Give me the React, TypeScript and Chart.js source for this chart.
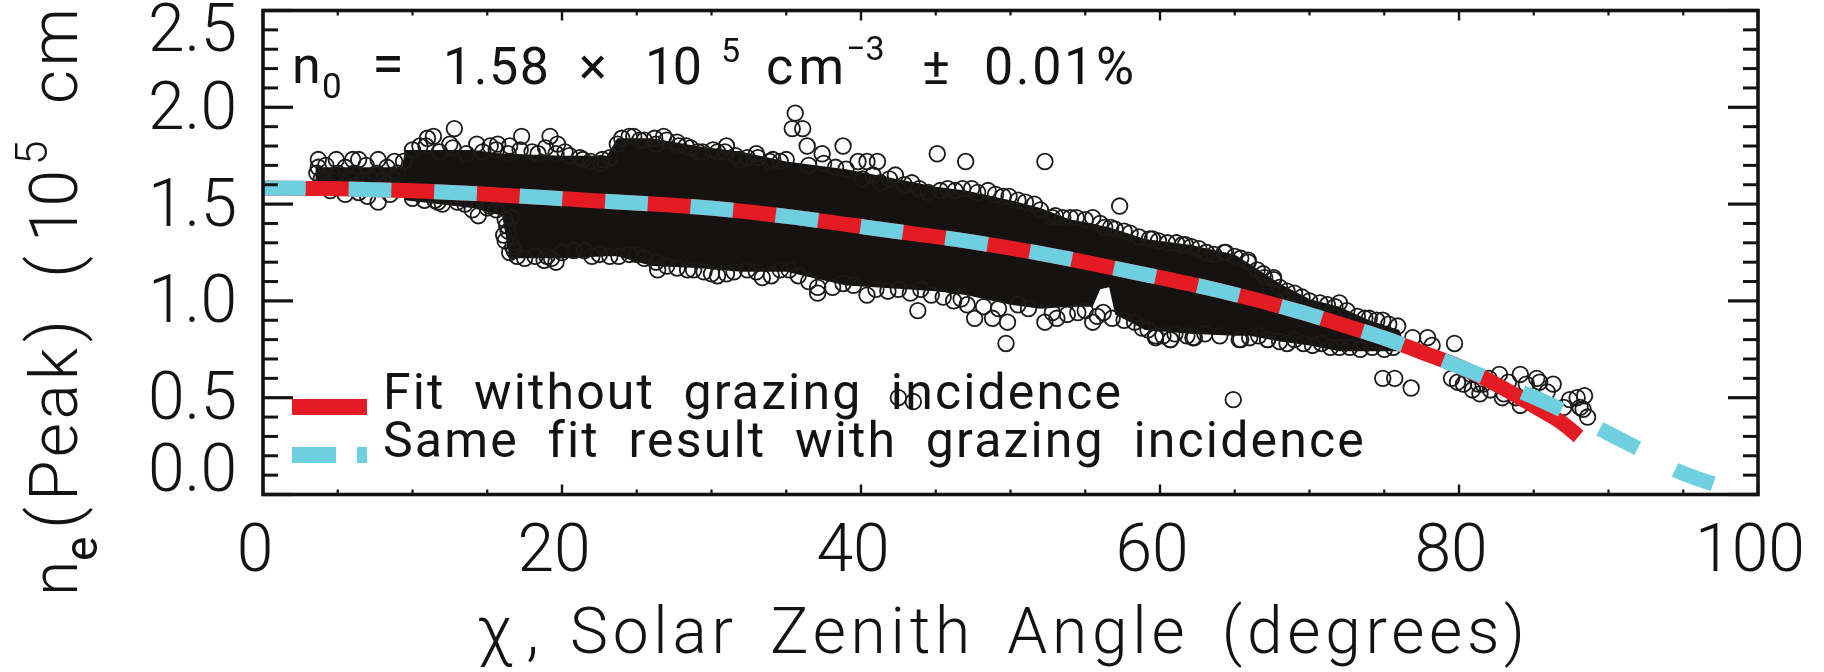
import React, { useEffect, useRef } from "react";
import { Chart, registerables } from "chart.js";

Chart.register(...registerables);

const FONT = "Roboto";
const WEIGHT = 300;
const INK = "#141311";
const RED = "#e41b23";
const CYAN = "#6dcfe0";

// Fit curves (degrees, 10^5 cm^-3)
const curveX = [0, 4.3, 13, 21.4, 29.9, 35.7, 41.3, 47, 52.6, 58.2, 63.8, 69.4, 72.2, 74.9, 77.5, 80.2, 82.7, 85.4, 90.6, 93.1, 94.4, 95.6, 97];
const cyanY = [1.583, 1.58, 1.559, 1.521, 1.48, 1.43, 1.37, 1.31, 1.237, 1.149, 1.056, 0.943, 0.876, 0.81, 0.735, 0.655, 0.575, 0.49, 0.292, 0.19, 0.13, 0.092, 0.055];
const redX = [0, 4.3, 13, 21.4, 29.9, 35.7, 41.3, 47, 52.6, 58.2, 63.8, 69.4, 72.2, 74.9, 77.5, 80.2, 82.7, 85.4, 86.9, 88];
const redY = [1.583, 1.58, 1.559, 1.521, 1.48, 1.43, 1.37, 1.31, 1.237, 1.149, 1.056, 0.943, 0.876, 0.81, 0.735, 0.655, 0.56, 0.44, 0.37, 0.3];

// Outline of the region where the measured circles overlap into solid black
const denseX = [3.5, 9.3, 9.5, 14, 16, 16.5, 20, 23, 23.7, 26, 29, 32, 35, 39, 43, 45, 47, 50, 52, 54, 55.5, 56, 56.6, 57, 59, 62, 65, 66, 68, 70, 72, 74, 76, 76.2];
const denseUpper = [1.69, 1.69, 1.78, 1.78, 1.76, 1.76, 1.75, 1.75, 1.84, 1.84, 1.8, 1.77, 1.72, 1.68, 1.62, 1.59, 1.57, 1.52, 1.48, 1.42, 1.4, 1.39, 1.38, 1.37, 1.32, 1.29, 1.24, 1.19, 1.09, 1.01, 0.97, 0.9, 0.85, 0.81];
const denseLower = [1.56, 1.56, 1.52, 1.48, 1.44, 1.22, 1.22, 1.23, 1.23, 1.18, 1.17, 1.15, 1.15, 1.08, 1.06, 1.05, 1.03, 0.98, 0.96, 0.97, 0.97, 1.06, 1.07, 0.93, 0.85, 0.83, 0.82, 0.82, 0.79, 0.77, 0.74, 0.74, 0.74, 0.76];

// Individually readable circles
const obsX = [
  35.6, 35.4, 36.1, 36.4, 37.4, 38.8, 39.8, 40.4, 41.1, 42.3, 43.4, 45.1, 47.0, 52.3, 57.3,
  37.1, 37.1, 38.1, 40.4, 43.3, 43.8, 44.7, 47.1, 47.6, 48.8, 49.8, 49.7, 52.3, 53.1, 54.5, 55.5, 55.8, 56.8, 58.3, 59.7, 60.7, 62.3, 65.4, 67.2,
  3.7, 3.7, 4.9, 6.0, 6.4, 7.7, 8.8, 9.4, 11.4, 11.0, 12.8, 10.5, 12.5, 14.3, 15.2, 15.7, 17.3, 19.2, 19.7, 20.2, 18.4, 16.5, 21.4, 22.7,
  24.5, 23.7, 25.2, 26.8, 26.3, 27.7, 28.3, 29.1, 31.0, 30.4, 33.0, 31.9, 34.1, 35.0,
  6.4, 7.7, 11.7, 13.0, 14.4, 14.0, 15.2, 16.1, 16.3, 16.6, 17.0, 16.7, 19.0, 19.6, 21.5, 23.2, 25.0, 26.3, 26.4, 28.4, 28.8, 30.4, 32.4, 33.4, 34.6,
  59.5, 61.5, 62.1, 63.1, 64.3, 65.9, 66.5, 67.6, 68.5, 69.5, 70.7, 72.0, 73.2, 74.0, 74.9, 75.9, 76.9, 77.9, 78.2, 79.7,
  59.7, 60.7, 62.2, 65.3, 67.2, 68.5, 69.6, 71.4, 72.7, 74.2, 74.9, 75.7, 76.8, 64.9,
  79.5, 79.9, 80.3, 80.9, 81.4, 81.6, 82.7, 84.1, 85.2, 86.3, 85.4, 84.1, 82.9, 87.9, 88.4, 88.1, 88.6, 88.3, 87.4, 87.0,
  80.8, 82.0, 83.3, 84.5, 85.9, 81.3, 82.1, 83.0, 83.8,
  40.1, 41.3, 45.3, 46.8, 47.4, 48.5, 49.9, 51.6, 53.5, 54.4, 55.5, 56.7, 58.0, 59.3, 61.1, 63.1, 64.4, 65.9, 67.6,
  42.5, 43.5,
];
const obsY = [
  1.97, 1.89, 1.89, 1.8, 1.76, 1.8, 1.72, 1.72, 1.72, 1.65, 1.61, 1.76, 1.72, 1.72, 1.49,
  1.04, 1.07, 1.07, 1.03, 1.04, 0.95, 1.03, 0.98, 0.91, 0.91, 0.89, 0.78, 0.89, 0.91, 0.94, 0.89, 0.92, 0.91, 0.89, 0.82, 0.8, 0.81, 0.8, 0.8,
  1.73, 1.69, 1.73, 1.73, 1.73, 1.73, 1.72, 1.72, 1.85, 1.84, 1.89, 1.8, 1.81, 1.81, 1.8, 1.81, 1.85, 1.85, 1.81, 1.77, 1.76, 1.8, 1.73, 1.73,
  1.85, 1.81, 1.83, 1.85, 1.81, 1.82, 1.8, 1.77, 1.8, 1.77, 1.76, 1.73, 1.73, 1.73,
  1.56, 1.51, 1.51, 1.51, 1.44, 1.47, 1.49, 1.34, 1.39, 1.43, 1.23, 1.28, 1.23, 1.2, 1.26, 1.23, 1.24, 1.2, 1.16, 1.16, 1.16, 1.13, 1.16, 1.12, 1.16,
  1.32, 1.29, 1.28, 1.25, 1.25, 1.2, 1.16, 1.11, 1.05, 1.02, 0.99, 0.99, 0.92, 0.91, 0.9, 0.87, 0.81, 0.81, 0.77, 0.78,
  0.81, 0.8, 0.81, 0.8, 0.8, 0.78, 0.78, 0.76, 0.76, 0.76, 0.6, 0.6, 0.55, 0.49,
  0.6, 0.58, 0.57, 0.54, 0.52, 0.57, 0.62, 0.62, 0.6, 0.57, 0.58, 0.46, 0.5, 0.5, 0.51, 0.45, 0.4, 0.44, 0.49, 0.45,
  0.62, 0.6, 0.58, 0.57, 0.53, 0.57, 0.54, 0.52, 0.5,
  1.63, 1.61, 1.57, 1.58, 1.58, 1.57, 1.54, 1.5, 1.43, 1.43, 1.43, 1.38, 1.35, 1.32, 1.3, 1.25, 1.25, 1.21, 1.12,
  0.5, 0.48,
];

// Edge rows of the cloud, where circles overlap but stay distinguishable
const edgeTopX = [
  3.6, 4.2, 5.0, 5.5, 6.1, 6.9, 7.6, 8.3, 9.0, 3.9, 4.7, 5.8, 6.6, 7.2, 8.0, 8.7,
  10, 10.9, 11.8, 12.7, 13.6, 14.7, 15.6, 16.4, 17.2, 18, 18.9, 19.6, 20.5, 21.2, 21.9, 22.6, 23.2,
  24, 24.8, 25.5, 26.2, 27, 27.8, 28.6, 29.4, 30.1, 30.9, 31.6, 32.4, 33.1, 33.9, 34.6,
  36.5, 37.5, 38.3, 39, 40.8, 41.9, 42.9, 43.9, 44.5, 45.8, 46.3, 47.8, 49, 49.5, 50.5, 51, 52,
  52.8, 53, 54, 55, 56, 56.3, 57, 57.6, 58.6, 59.9, 60.5, 61.7, 62.6, 63.6, 65, 65.4,
  66.9, 67, 68, 69, 70, 71.2, 71.7, 72.5, 73.7, 74.5, 75.3,
];
const edgeTopY = [
  1.66, 1.7, 1.66, 1.69, 1.66, 1.7, 1.66, 1.69, 1.66, 1.63, 1.62, 1.63, 1.62, 1.63, 1.62, 1.63,
  1.78, 1.8, 1.77, 1.79, 1.76, 1.77, 1.78, 1.76, 1.78, 1.77, 1.79, 1.76, 1.75, 1.74, 1.72, 1.71, 1.74,
  1.84, 1.85, 1.83, 1.84, 1.83, 1.8, 1.79, 1.77, 1.78, 1.77, 1.75, 1.74, 1.74, 1.72, 1.72,
  1.7, 1.71, 1.69, 1.68, 1.65, 1.63, 1.6, 1.58, 1.56, 1.58, 1.57, 1.56, 1.55, 1.54, 1.52, 1.51, 1.47,
  1.43, 1.44, 1.43, 1.42, 1.4, 1.38, 1.37, 1.36, 1.33, 1.31, 1.3, 1.29, 1.27, 1.24, 1.23, 1.22,
  1.14, 1.12, 1.07, 1.04, 1.0, 0.98, 0.97, 0.95, 0.91, 0.9, 0.88,
];
const edgeLowX = [
  4.5, 5.5, 7, 8.5, 10, 10.8, 11.5, 12, 13.5, 15, 15.6,
  16.2, 16.4, 16.8, 16.2, 16.5,
  17.5, 18.2, 18.8, 19.3, 20, 20.8, 22, 22.5, 23.8, 24.5, 25.5, 27, 27.7, 29.5, 30, 31, 31.5, 33, 34, 35.2,
  35.8, 36.5, 38.8, 39.5, 41, 41.8, 42.5, 44, 45.5, 46.2, 46.7, 48.2, 49.2, 50.5, 51.2, 52.8, 53.8, 55, 56.2,
  57.6, 58.8, 59.2, 60.2, 61, 61.8, 63, 64, 66, 66.6, 68, 69, 70.2, 70.8, 72, 73.4, 75, 75.6,
];
const edgeLowY = [
  1.57, 1.55, 1.54, 1.55, 1.53, 1.52, 1.52, 1.5, 1.5, 1.48, 1.47,
  1.31, 1.36, 1.26, 1.42, 1.25,
  1.22, 1.23, 1.21, 1.22, 1.25, 1.26, 1.23, 1.24, 1.23, 1.24, 1.22, 1.18, 1.17, 1.15, 1.14, 1.14, 1.15, 1.15, 1.13, 1.16,
  1.13, 1.1, 1.09, 1.08, 1.06, 1.05, 1.06, 1.06, 1.02, 1.0, 1.01, 0.97, 0.96, 0.98, 0.96, 0.94, 0.93, 0.95, 0.94,
  0.9, 0.86, 0.85, 0.82, 0.83, 0.82, 0.83, 0.82, 0.81, 0.82, 0.79, 0.8, 0.77, 0.78, 0.76, 0.75, 0.75, 0.76,
];

const xMajor = [0, 20, 40, 60, 80, 100];
const xMinor = [5, 10, 15, 25, 30, 35, 45, 50, 55, 65, 70, 75, 85, 90, 95];
const yMajor = [0, 0.5, 1, 1.5, 2, 2.5];
const yMinor = [0.1, 0.2, 0.3, 0.4, 0.6, 0.7, 0.8, 0.9, 1.1, 1.2, 1.3, 1.4, 1.6, 1.7, 1.8, 1.9, 2.1, 2.2, 2.3, 2.4];

const legendLabels = ["Fit without grazing incidence", "Same fit result with grazing incidence"];
const xTitle = "Solar Zenith Angle (degrees)";

function fitted(ctx: CanvasRenderingContext2D, text: string, x: number, y: number, size: number, width?: number, word = 0, weight = WEIGHT) {
  const c = ctx as any;
  ctx.font = `${weight} ${size}px ${FONT}`;
  c.wordSpacing = `${word}px`;
  c.letterSpacing = "0px";
  if (width && text.length > 1) {
    const w = ctx.measureText(text).width;
    c.letterSpacing = `${(width - w) / (text.length - 1)}px`;
  }
  ctx.fillText(text, x, y);
  c.letterSpacing = "0px";
  c.wordSpacing = "0px";
}

const frame = {
  id: "frame",
  afterDatasetsDraw(chart: any) {
    const { ctx, chartArea: a, scales } = chart;
    const X = scales.x;
    const Y = scales.y;
    ctx.save();
    ctx.strokeStyle = INK;
    ctx.fillStyle = INK;
    ctx.lineWidth = 3.6;
    ctx.strokeRect(a.left, a.top, a.right - a.left, a.bottom - a.top);

    const seg = (x1: number, y1: number, x2: number, y2: number, w: number) => {
      ctx.lineWidth = w;
      ctx.beginPath();
      ctx.moveTo(x1, y1);
      ctx.lineTo(x2, y2);
      ctx.stroke();
    };
    xMajor.forEach((v) => {
      const p = X.getPixelForValue(v);
      seg(p, a.bottom, p, a.bottom - 10, 2.4);
      seg(p, a.top, p, a.top + 10, 2.4);
    });
    xMinor.forEach((v) => {
      const p = X.getPixelForValue(v);
      seg(p, a.bottom, p, a.bottom - 5, 2.2);
      seg(p, a.top, p, a.top + 5, 2.2);
    });
    yMajor.forEach((v) => {
      const p = Y.getPixelForValue(v);
      seg(a.left, p, a.left + 30, p, 3.2);
      seg(a.right, p, a.right - 30, p, 3.2);
    });
    yMinor.forEach((v) => {
      const p = Y.getPixelForValue(v);
      seg(a.left, p, a.left + 15, p, 3);
      seg(a.right, p, a.right - 15, p, 3);
    });

    // Annotation
    ctx.textAlign = "left";
    ctx.textBaseline = "alphabetic";
    const A = 400;
    fitted(ctx, "n", 292, 83, 52, undefined, 0, A);
    fitted(ctx, "0", 322, 98, 35, undefined, 0, A);
    fitted(ctx, "=", 372, 83, 58, undefined, 0, A);
    fitted(ctx, "1.58", 443, 84, 52, 106, 0, A);
    fitted(ctx, "×", 579, 84, 52, undefined, 0, A);
    fitted(ctx, "10", 645, 84, 52, 57, 0, A);
    fitted(ctx, "5", 721, 62, 34, undefined, 0, A);
    fitted(ctx, "cm", 766, 84, 52, 78, 0, A);
    fitted(ctx, "−3", 846, 60, 34, undefined, 0, A);
    fitted(ctx, "±", 922, 84, 52, undefined, 0, A);
    fitted(ctx, "0.01%", 984, 84, 52, 150, 0, A);

    // Legend
    ctx.lineCap = "butt";
    ctx.strokeStyle = RED;
    seg(292, 407, 367, 407, 16);
    ctx.strokeStyle = CYAN;
    seg(292, 455, 336, 455, 16);
    seg(357, 455, 367, 455, 16);
    fitted(ctx, legendLabels[0], 383, 409, 50, 738, 14, A);
    fitted(ctx, legendLabels[1], 383, 457, 50, 979, 14, A);

    // x title
    fitted(ctx, "χ,", 477, 653, 66, 62);
    fitted(ctx, xTitle, 570, 653, 64, 955, 12);

    // y title
    ctx.translate(77, 0);
    ctx.rotate(-Math.PI / 2);
    const yText = (t: string, at: number, base: number, size: number, width?: number, weight = WEIGHT) => {
      fitted(ctx, t, -at, base, size, width, 0, weight);
    };
    yText("n", 596, 0, 64);
    yText("e", 561, 20, 46, undefined, 400);
    yText("(", 529, 0, 68);
    yText("Peak", 501, 0, 66, 153);
    yText(")", 342, 0, 68);
    yText("(", 278, 0, 68);
    yText("10", 242, 0, 66, 72);
    yText("5", 165, -30, 44);
    yText("cm", 104, 0, 66, 96);
    ctx.restore();
  },
};

export default function App() {
  const ref = useRef<HTMLCanvasElement>(null);
  useEffect(() => {
    document.body.style.margin = "0";
    const circle = {
      pointRadius: 7.8,
      pointBorderWidth: 1.8,
      pointBorderColor: "#1c1b19",
      pointBackgroundColor: "rgba(0,0,0,0)",
      order: 2,
    };
    const chart = new Chart(ref.current as HTMLCanvasElement, {
      type: "scatter",
      data: {
        datasets: [
          {
            label: "Dense upper",
            data: denseX.map((x, i) => ({ x, y: denseUpper[i] })),
            showLine: true,
            pointRadius: 0,
            borderWidth: 0,
            backgroundColor: INK,
            fill: "+1",
            order: 3,
          },
          {
            label: "Dense lower",
            data: denseX.map((x, i) => ({ x, y: denseLower[i] })),
            showLine: true,
            pointRadius: 0,
            borderWidth: 0,
            order: 4,
          },
          { label: "Observations", data: obsX.map((x, i) => ({ x, y: obsY[i] })), ...circle },
          { label: "Cloud top", data: edgeTopX.map((x, i) => ({ x, y: edgeTopY[i] })), ...circle },
          { label: "Cloud bottom", data: edgeLowX.map((x, i) => ({ x, y: edgeLowY[i] })), ...circle },
          {
            label: legendLabels[0],
            data: redX.map((x, i) => ({ x, y: redY[i] })),
            showLine: true,
            pointRadius: 0,
            borderColor: RED,
            borderWidth: 15,
            borderCapStyle: "butt",
            cubicInterpolationMode: "monotone",
            order: 1,
          },
          {
            label: legendLabels[1],
            data: curveX.map((x, i) => ({ x, y: cyanY[i] })),
            showLine: true,
            pointRadius: 0,
            borderColor: CYAN,
            borderWidth: 15,
            borderCapStyle: "butt",
            borderDash: [42.8, 42.8],
            cubicInterpolationMode: "monotone",
            order: 0,
          },
        ],
      },
      options: {
        animation: false,
        responsive: false,
        events: [],
        layout: { autoPadding: false, padding: { top: 10.5, right: 66, left: 0, bottom: 0 } },
        plugins: { legend: { display: false }, tooltip: { enabled: false } },
        scales: {
          x: {
            type: "linear",
            min: 0,
            max: 100,
            grid: { display: false, drawTicks: false },
            border: { display: false },
            afterFit: (s: any) => { s.height = 177.5; s.paddingLeft = 0; s.paddingRight = 0; },
            afterBuildTicks: (s: any) => { s.ticks = xMajor.map((value) => ({ value })); },
            ticks: {
              color: INK,
              padding: 20,
              labelOffset: -8,
              maxRotation: 0,
              autoSkip: false,
              font: { family: FONT, size: 66, weight: WEIGHT as any },
            },
          },
          y: {
            type: "linear",
            min: 0,
            max: 2.5,
            grid: { display: false, drawTicks: false },
            border: { display: false },
            afterFit: (s: any) => { s.width = 263; s.paddingTop = 0; s.paddingBottom = 0; },
            afterBuildTicks: (s: any) => { s.ticks = yMajor.map((value) => ({ value })); },
            ticks: {
              color: INK,
              padding: 26,
              labelOffset: 5,
              autoSkip: false,
              callback: (v: any) => {
                const t = Number(v).toFixed(1);
                if (Number(v) === 2.5) return ["", t];
                if (Number(v) === 0) return [t, ""];
                return t;
              },
              font: (c: any) => ({
                family: FONT,
                size: 66,
                weight: WEIGHT as any,
                lineHeight: c.index === 0 ? "50px" : c.index === 5 ? "38px" : "66px",
              }),
            },
          },
        },
      },
      plugins: [frame],
    } as any);
    return () => chart.destroy();
  }, []);
  return (
    <canvas
      ref={ref}
      width={1824}
      height={672}
      style={{ display: "block", width: 1824, height: 672, background: "#fff" }}
    />
  );
}
